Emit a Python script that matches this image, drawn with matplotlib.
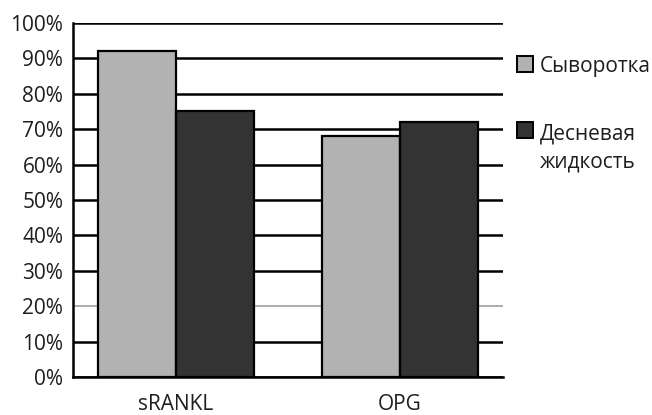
import matplotlib
matplotlib.use("Agg")
import matplotlib.pyplot as plt
from matplotlib.patches import Rectangle
import numpy as np

plt.rcParams['font.family'] = ['Open Sans', 'DejaVu Sans']

categories = ["sRANKL", "OPG"]
series_names = ["Сыворотка", "Десневая", "жидкость"]
serum = [92, 68]
gingival_fluid = [75, 72]
y_ticks = [0, 10, 20, 30, 40, 50, 60, 70, 80, 90, 100]
y_tick_labels = [f"{v}%" for v in y_ticks]

colors = ["#b2b2b2", "#333333"]
text_color = "#1e1e1e"
fs = 15

W, H = 652, 415
fig = plt.figure(figsize=(W / 100, H / 100), dpi=100)
ax = fig.add_axes([73 / W, (H - 377) / H, 430 / W, 354 / H])

x = np.arange(len(categories))
bw = 0.35
ax.bar(x - bw / 2, serum, bw, color=colors[0], edgecolor="black", linewidth=1.6, zorder=3)
ax.bar(x + bw / 2, gingival_fluid, bw, color=colors[1], edgecolor="black", linewidth=1.6, zorder=3)

ax.set_xlim(-0.46, 1.46)
ax.set_ylim(0, 100)
ax.set_yticks(y_ticks)
ax.set_yticklabels(y_tick_labels, fontsize=fs, color=text_color)
ax.set_xticks(x)
ax.set_xticklabels(categories, fontsize=fs, color=text_color)
ax.tick_params(axis="both", length=0)
ax.tick_params(axis="y", pad=7)
ax.tick_params(axis="x", pad=12.5)

ax.grid(axis="y", color="black", linewidth=1.8, zorder=0)
ax.set_axisbelow(True)
ax.get_ygridlines()[2].set_color("#a0a0a0")
ax.get_ygridlines()[2].set_linewidth(1.2)

for side in ["top", "right"]:
    ax.spines[side].set_visible(False)
ax.spines["left"].set_linewidth(1.8)
ax.spines["bottom"].set_linewidth(1.8)

# legend: swatches with text beside them
swatch_centers = [64, 130]
for c, yc in zip(colors, swatch_centers):
    fig.patches.append(Rectangle((517 / W, (H - yc - 8) / H), 16 / W, 16 / H,
                                 transform=fig.transFigure, facecolor=c,
                                 edgecolor="black", linewidth=1.4))

baselines = [72, 140, 167]
for name, yb in zip(series_names, baselines):
    fig.text(540 / W, (H - yb) / H, name, fontsize=fs, color=text_color,
             va="baseline", ha="left")

fig.savefig("out.png", dpi=100, facecolor="white")
